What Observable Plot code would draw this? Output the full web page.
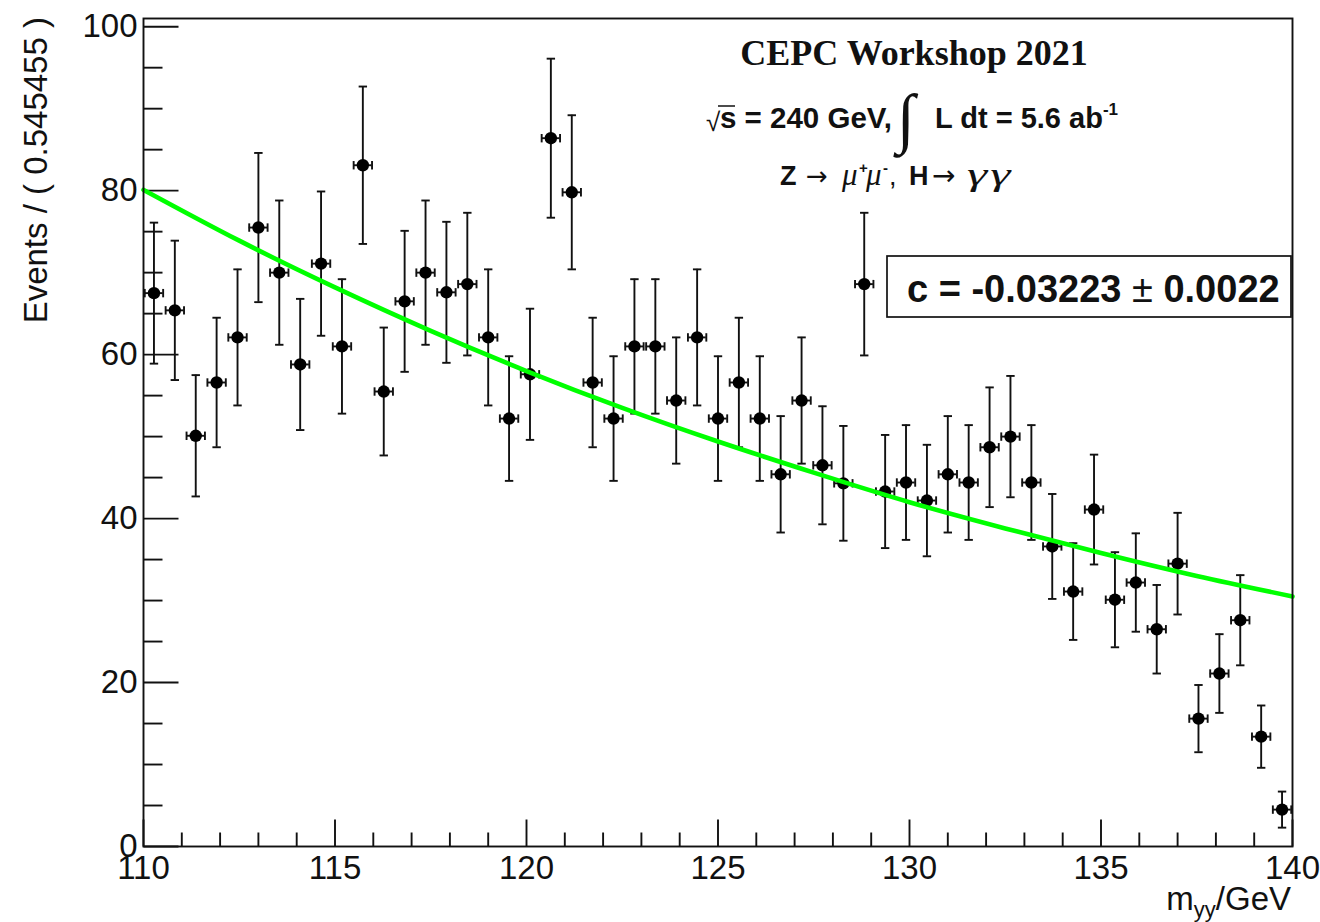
<!DOCTYPE html>
<html><head><meta charset="utf-8">
<script src="https://cdn.jsdelivr.net/npm/d3@7"></script>
<script src="https://cdn.jsdelivr.net/npm/@observablehq/plot@0.6"></script>
<style>html,body{margin:0;padding:0;background:#fff;} svg{display:block;}</style>
</head><body><div id="chart"></div>
<script>
// Bin centres (GeV), 55 bins of 0.545455 GeV from 110 to 140
const binCenters = [110.273,110.818,111.364,111.909,112.455,113.000,113.545,114.091,114.636,115.182,
  115.727,116.273,116.818,117.364,117.909,118.455,119.000,119.545,120.091,120.636,
  121.182,121.727,122.273,122.818,123.364,123.909,124.455,125.000,125.545,126.091,
  126.636,127.182,127.727,128.273,128.818,129.364,129.909,130.455,131.000,131.545,
  132.091,132.636,133.182,133.727,134.273,134.818,135.364,135.909,136.455,137.000,
  137.545,138.091,138.636,139.182,139.727];
// Events per bin
const events = [67.5,65.4,50.1,56.6,62.1,75.5,70.0,58.8,71.1,61.0,
  83.1,55.5,66.5,70.0,67.6,68.6,62.1,52.2,57.6,86.4,
  79.8,56.6,52.2,61.0,61.0,54.4,62.1,52.2,56.6,52.2,
  45.4,54.4,46.5,44.3,68.6,43.3,44.4,42.2,45.4,44.4,
  48.7,50.0,44.4,36.6,31.1,41.1,30.1,32.2,26.5,34.5,
  15.6,21.1,27.6,13.4,4.5];
// Error bar half-heights
const eventErrors = [8.6,8.5,7.4,7.9,8.3,9.1,8.8,8.0,8.8,8.2,
  9.6,7.8,8.6,8.8,8.6,8.7,8.3,7.6,8.0,9.7,
  9.4,7.9,7.6,8.2,8.2,7.7,8.3,7.6,7.9,7.6,
  7.1,7.7,7.2,7.0,8.7,6.9,7.0,6.8,7.1,7.0,
  7.3,7.4,7.0,6.4,5.9,6.7,5.8,6.0,5.4,6.2,
  4.1,4.8,5.5,3.8,2.2];
const xErrHalf = 0.24;
// Fitted exponential background
const fitX = [110,112.5,115,117.5,120,122.5,125,127.5,130,132.5,135,137.5,140];
const fitY = [80.1,73.9,68.2,62.9,58.0,53.5,49.4,45.6,42.0,38.8,35.8,33.0,30.5];
// Axis ticks
const yMajor = [0,20,40,60,80,100];
const yMinor = [5,10,15,25,30,35,45,50,55,65,70,75,85,90,95];
const xMajor = [110,115,120,125,130,135,140];
const xMinor = [111,112,113,114,116,117,118,119,121,122,123,124,126,127,128,129,131,132,133,134,136,137,138,139];

const pts = binCenters.map((x,i)=>({x, y: events[i], e: eventErrors[i]}));
const fit = fitX.map((x,i)=>({x, y: fitY[i]}));

const rOf = s => Math.sqrt(s/Math.PI);
const hCap = {draw(c,s){const r=rOf(s); c.moveTo(-r,0); c.lineTo(r,0);}};
const vCap = {draw(c,s){const r=rOf(s); c.moveTo(0,-r); c.lineTo(0,r);}};
const tickRight = {draw(c,s){const r=rOf(s); c.moveTo(0,0); c.lineTo(r,0);}};
const tickUp = {draw(c,s){const r=rOf(s); c.moveTo(0,0); c.lineTo(0,-r);}};

const ink = "#111";
const sw = 1.9;
const SANS = "'Liberation Sans', Arial, Helvetica, sans-serif";
const SERIF = "'Liberation Serif', 'Times New Roman', serif";

const chart = Plot.plot({
  width: 1320, height: 922,
  marginLeft: 143, marginRight: 28, marginTop: 18, marginBottom: 76,
  style: {fontFamily: SANS, fontSize: "33px", color: "#111", background: "#fff", overflow: "visible"},
  x: {domain: [110, 140]},
  y: {domain: [0, 101]},
  marks: [
    Plot.axisY({ticks: yMajor, tickSize: 0, tickPadding: 6, label: null, fontSize: 33}),
    Plot.axisX({ticks: xMajor, tickSize: 0, tickPadding: 9, label: null, fontSize: 33}),
    Plot.dot(yMajor, {y: d=>d, frameAnchor: "left", symbol: tickRight, r: 35, stroke: ink, strokeWidth: sw, fill: "none"}),
    Plot.dot(yMinor, {y: d=>d, frameAnchor: "left", symbol: tickRight, r: 19, stroke: ink, strokeWidth: sw, fill: "none"}),
    Plot.dot(xMajor, {x: d=>d, frameAnchor: "bottom", symbol: tickUp, r: 27, stroke: ink, strokeWidth: sw, fill: "none"}),
    Plot.dot(xMinor, {x: d=>d, frameAnchor: "bottom", symbol: tickUp, r: 14, stroke: ink, strokeWidth: sw, fill: "none"}),
    Plot.ruleX(pts, {x: "x", y1: d=>d.y-d.e, y2: d=>d.y+d.e, stroke: ink, strokeWidth: sw}),
    Plot.ruleY(pts, {y: "y", x1: d=>d.x-xErrHalf, x2: d=>d.x+xErrHalf, stroke: ink, strokeWidth: sw}),
    Plot.dot(pts, {x: "x", y: d=>d.y+d.e, symbol: hCap, r: 4.2, stroke: ink, strokeWidth: sw, fill: "none"}),
    Plot.dot(pts, {x: "x", y: d=>d.y-d.e, symbol: hCap, r: 4.2, stroke: ink, strokeWidth: sw, fill: "none"}),
    Plot.dot(pts, {x: d=>d.x-xErrHalf, y: "y", symbol: vCap, r: 4.2, stroke: ink, strokeWidth: sw, fill: "none"}),
    Plot.dot(pts, {x: d=>d.x+xErrHalf, y: "y", symbol: vCap, r: 4.2, stroke: ink, strokeWidth: sw, fill: "none"}),
    Plot.dot(pts, {x: "x", y: "y", r: 6.2, fill: "#000", stroke: "none"}),
    Plot.line(fit, {x: "x", y: "y", curve: "natural", stroke: "#00ff00", strokeWidth: 4.6}),
    Plot.frame({stroke: ink, strokeWidth: 1.9})
  ]
});
document.getElementById("chart").appendChild(chart);

const svg = d3.select(chart);
const g = svg.append("g").attr("fill", "#111").attr("text-anchor", "start");
const txt = (x, y, s, o = {}) => {
  const t = g.append("text").attr("x", x).attr("y", y)
    .attr("font-family", o.family || SANS).attr("font-size", o.size || 27)
    .attr("font-weight", o.weight || "normal").attr("font-style", o.style || "normal").text(s);
  if (o.anchor) t.attr("text-anchor", o.anchor);
  return t;
};

// Axis titles
g.append("text").attr("transform", "translate(47,17) rotate(-90)").attr("text-anchor", "end")
  .attr("font-family", SANS).attr("font-size", 33).text("Events / ( 0.545455 )");
const xt = g.append("text").attr("x", 1291).attr("y", 910).attr("text-anchor", "end")
  .attr("font-family", SANS).attr("font-size", 33);
xt.append("tspan").text("m");
xt.append("tspan").attr("font-size", 22).attr("dy", 7).text("yy");
xt.append("tspan").attr("dy", -7).text("/GeV");

// Header
txt(914, 65, "CEPC Workshop 2021", {family: SERIF, weight: "bold", size: 36, anchor: "middle"});

// line 2
txt(706, 131, "√", {size: 26});
g.append("line").attr("x1", 718).attr("x2", 735).attr("y1", 106).attr("y2", 106).attr("stroke", "#111").attr("stroke-width", 1.5);
txt(720, 128, "s = 240 GeV,", {weight: "bold", size: 29.5});
txt(897, 140, "∫", {family: SERIF, size: 66});
const l2 = txt(935, 128, "L dt = 5.6 ab", {weight: "bold", size: 29});
l2.append("tspan").attr("font-size", 17).attr("dy", -13).text("-1");

// line 3
const ARROW = "'DejaVu Sans', sans-serif";
txt(780, 185, "Z", {weight: "bold", size: 27});
txt(806, 185, "→", {family: ARROW, size: 26});
txt(842, 185, "μ", {family: SERIF, style: "italic", size: 31});
txt(859, 173, "+", {size: 15, weight: "bold"});
txt(866, 185, "μ", {family: SERIF, style: "italic", size: 31});
txt(883, 173, "-", {size: 15, weight: "bold"});
txt(889, 185, ",", {size: 27});
txt(909, 185, "H", {weight: "bold", size: 27});
txt(932, 185, "→", {family: ARROW, size: 28});
g.append("text").attr("transform", "translate(967,185) scale(1.6,1)")
  .attr("font-family", SERIF).attr("font-style", "italic").attr("font-size", 32)
  .attr("letter-spacing", 2).text("γγ");

// Fit result box
g.append("rect").attr("x", 887).attr("y", 256).attr("width", 404).attr("height", 61)
  .attr("fill", "#fff").attr("stroke", "#111").attr("stroke-width", 1.7);
const bt = txt(907, 302, "", {weight: "bold", size: 38});
bt.append("tspan").text("c = -0.03223 ");
bt.append("tspan").attr("font-weight", "normal").text("±");
bt.append("tspan").text(" 0.0022");
</script></body></html>
